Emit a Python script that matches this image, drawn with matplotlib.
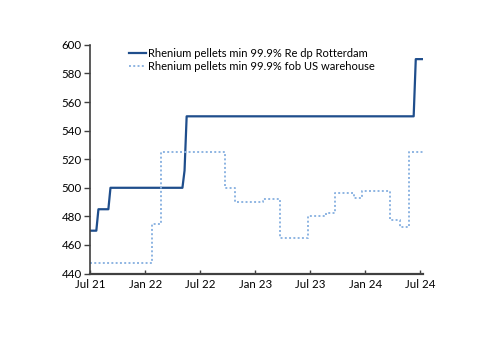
import matplotlib
matplotlib.use('Agg')
import matplotlib.pyplot as plt
import matplotlib.dates as mdates
import pandas as pd

# Rhenium pellets min 99.9% Re dp Rotterdam (price turning points)
fechas_rotterdam = ['2021-07-01', '2021-07-22', '2021-07-29', '2021-08-31', '2021-09-07',
                    '2022-05-04', '2022-05-11', '2022-05-18', '2024-06-10', '2024-06-17',
                    '2024-07-11']
valores_rotterdam = [470, 470, 485, 485, 500, 500, 512, 550, 550, 590, 590]

# Rhenium pellets min 99.9% fob US warehouse (step changes)
fechas_us = ['2021-07-01', '2022-01-24', '2022-02-21', '2022-09-22', '2022-10-24',
             '2023-01-26', '2023-03-25', '2023-06-24', '2023-08-24', '2023-09-24',
             '2023-11-26', '2023-12-22', '2024-03-22', '2024-04-26', '2024-05-26',
             '2024-07-11']
valores_us = [447.5, 475, 525, 500, 490, 492.5, 465, 480, 482.5, 496.5,
              493, 497.5, 477.5, 472.5, 525, 525]

etiquetas = ['Rhenium pellets min 99.9% Re dp Rotterdam',
             'Rhenium pellets min 99.9% fob US warehouse']
ticks_x = ['2021-07-01', '2022-01-01', '2022-07-01', '2023-01-01',
           '2023-07-01', '2024-01-01', '2024-07-01']

plt.rcParams['font.family'] = ['Lato', 'DejaVu Sans']
plt.rcParams['font.size'] = 8

fig = plt.figure(figsize=(5, 3.53), dpi=100)
ax = fig.add_axes([0.18, 0.225, 0.666, 0.648])

ax.plot(pd.to_datetime(fechas_rotterdam), valores_rotterdam, color='#1F4E8C',
        linewidth=1.6, label=etiquetas[0])
ax.plot(pd.to_datetime(fechas_us), valores_us, color='#8DB4E2', linewidth=1.4,
        linestyle=(0, (1, 1.2)), drawstyle='steps-post', label=etiquetas[1])

ax.set_ylim(440, 600)
ax.set_yticks(range(440, 601, 20))
ax.set_xlim(pd.Timestamp('2021-07-01'), pd.Timestamp('2024-07-11'))
ax.set_xticks(pd.to_datetime(ticks_x))
ax.xaxis.set_major_formatter(mdates.DateFormatter('%b %y'))

for lado in ['top', 'right']:
    ax.spines[lado].set_visible(False)
ax.spines['left'].set_color('#404040')
ax.spines['bottom'].set_color('#404040')
ax.spines['left'].set_linewidth(1.2)
ax.spines['bottom'].set_linewidth(1.6)
ax.tick_params(axis='y', direction='out', length=4, width=1, color='#404040',
               labelsize=8.3, pad=2)
ax.tick_params(axis='x', direction='in', length=3, width=1, color='#404040',
               labelsize=8.3, pad=4)

ax.legend(loc='upper left', bbox_to_anchor=(0.105, 1.005), frameon=False,
          handlelength=1.5, handletextpad=0.2, labelspacing=0.2, borderaxespad=0,
          fontsize=8)

fig.savefig('out.png', dpi=100)
